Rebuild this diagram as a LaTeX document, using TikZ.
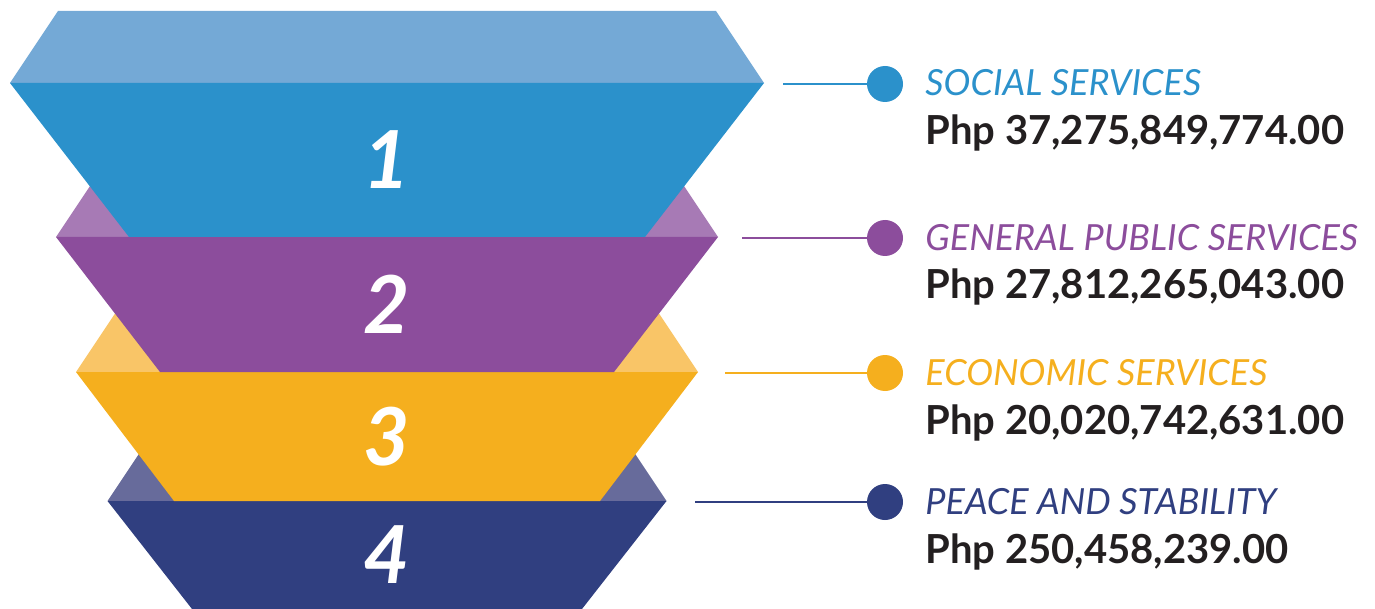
\documentclass[tikz,border=0pt]{standalone}
\usepackage{fontspec}
\setmainfont{Lato}
\usetikzlibrary{positioning}
\definecolor{front1}{HTML}{2B91CB}
\definecolor{top1}{HTML}{74A9D6}
\definecolor{front2}{HTML}{8C4D9C}
\definecolor{top2}{HTML}{A77AB5}
\definecolor{front3}{HTML}{F5AF1E}
\definecolor{top3}{HTML}{F9C567}
\definecolor{front4}{HTML}{303F80}
\definecolor{top4}{HTML}{676B9B}
\definecolor{ink}{HTML}{231F20}
\begin{document}
\begin{tikzpicture}[x=0.5pt,y=-0.5pt,
    digit/.style={text=white,font=\fontsize{40}{40}\selectfont\bfseries\itshape},
    head/.style={anchor=base west,inner sep=0pt,font=\fontsize{18}{20}\selectfont\itshape},
    amount/.style={anchor=base west,inner sep=0pt,text=ink,font=\fontsize{20}{22}\selectfont\bfseries},
    dot/.style={circle,inner sep=0pt,minimum size=18pt},
    lead/.style={line width=1pt}]
    \useasboundingbox (0,0) rectangle (1375,609);
    % funnel, lowest layer first
    \foreach \n/\yt/\yb/\wt/\wb in {4/501/609/279.5/195,3/372/501/311/213,%
    2/237/372/331/227,1/83/237/377/258}
    {
    \fill[top\n] ({387-\wt+48},{\yt-72}) -- ({387+\wt-48},{\yt-72}) -- ({387+\wt},\yt) -- ({387-\wt},\yt) -- cycle;
    \fill[front\n] ({387-\wt},\yt) -- ({387+\wt},\yt) -- ({387+\wb},\yb) -- ({387-\wb},\yb) -- cycle;
    \node[digit] (num\n) at (387,{(\yt+\yb)/2}) {\n};
    }
    % labels
    \foreach \n/\ly/\lx/\txt/\amt in {1/84/783/{SOCIAL SERVICES}/{37,275,849,774.00},%
    2/238/742/{GENERAL PUBLIC SERVICES}/{27,812,265,043.00},%
    3/373/725/{ECONOMIC SERVICES}/{20,020,742,631.00},%
    4/502/695/{PEACE AND STABILITY}/{250,458,239.00}}
    {
    \coordinate (lead\n) at (\lx,\ly);
    \node[dot,fill=front\n] (dot\n) at (885,\ly) {};
    \draw[lead,front\n] (lead\n) -- (dot\n);
    \node[head,text=front\n] (head\n) at (925,{\ly+12}) {\txt};
    \node[amount] (amt\n) at (925,{\ly+61}) {Php \amt};
    }
\end{tikzpicture}
\end{document}
